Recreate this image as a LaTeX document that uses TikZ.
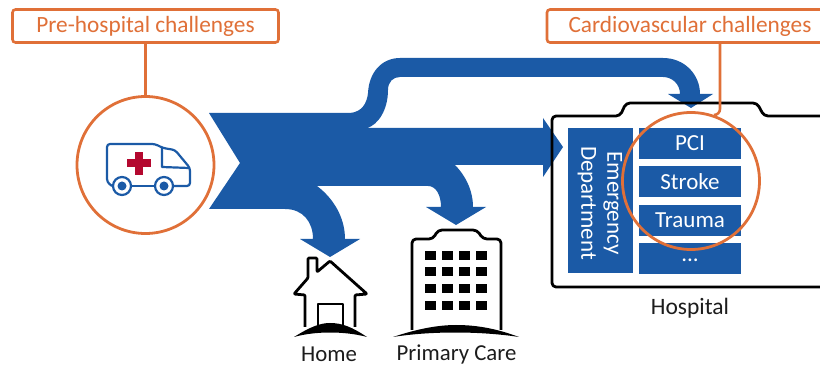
\documentclass[tikz,border=0pt]{standalone}
\usepackage{fontspec}
\setmainfont{Carlito}
\usetikzlibrary{positioning}
\definecolor{flowblue}{HTML}{1B5AA6}
\definecolor{callout}{HTML}{E07038}
\definecolor{crossred}{HTML}{B4082F}
\definecolor{inktext}{HTML}{1C1C1C}
\begin{document}
\begin{tikzpicture}[x=1pt,y=-1pt,
  tag box/.style={draw=callout,line width=2.6pt,rounded corners=3pt,fill=white,
    text=callout,minimum height=33pt,inner sep=0pt,font=\fontsize{23.3}{23.3}\selectfont},
  focus ring/.style={circle,draw=callout,line width=2.8pt,inner sep=0pt,minimum size=#1},
  ward box/.style={fill=flowblue,text=white,minimum width=102pt,minimum height=31pt,
    inner sep=0pt,font=\fontsize{23}{23}\selectfont},
  place label/.style={text=inktext,inner sep=0pt,font=\fontsize{#1}{#1}\selectfont},
  outline/.style={draw=black,line width=2.8pt,line join=round}]
 \useasboundingbox (0,0) rectangle (820,366);
 \clip (0,0) rectangle (820,366);
 % flows
 \fill[flowblue] (209,113) -- (350,113) .. controls (362,112) and (367,103) .. (368,93)
  .. controls (369,72) and (382,58) .. (400,58) -- (663,58)
  .. controls (685,58) and (700,75) .. (700,94) -- (713,94) -- (691,108) -- (668,94) -- (680,94)
  .. controls (680,84) and (672,77) .. (663,77) -- (400,77)
  .. controls (393,77) and (388,82) .. (388,90) .. controls (388,110) and (378,125) .. (367,128)
  -- (543,128) -- (543,118) -- (563,147) -- (543,177) -- (543,165) -- (455,165)
  .. controls (465,175) and (473,190) .. (473,207) -- (486,207) -- (456,225) -- (426,207) -- (441,207)
  .. controls (441,195) and (436,186) .. (428,186) -- (317,186)
  .. controls (333,198) and (345,217) .. (345,239) -- (360,239) -- (330,257) -- (300,239) -- (313,239)
  .. controls (313,222) and (303,209) .. (285,209) -- (209,209) -- (240,163) -- cycle;
 % hospital
 \draw[outline,rounded corners=4pt] (825,287) -- (552,287) -- (552,116) -- (620,116)
  -- (626,103) -- (757,103) -- (764,116) -- (825,116);
 \node[fill=flowblue,text=white,minimum width=65pt,minimum height=145pt,inner sep=0pt] (emerg) at (600.5,200.5) {};
 \node[text=white,rotate=-90,align=center,inner sep=0pt,font=\fontsize{23}{26}\selectfont] (emergtext) at (600,203) {Emergency\\Department};
 \node[ward box] (pci) at (690,143.5) {PCI};
 \node[ward box,below=7pt of pci] (stroke) {Stroke};
 \node[ward box,below=7pt of stroke] (trauma) {Trauma};
 \node[ward box,below=7pt of trauma] (more) {\raisebox{-5pt}{...}};
 \node[place label=23.5] (hospital) at (690,308) {Hospital};
 % callouts
 \node[tag box,minimum width=266pt] (pre) at (145.5,26) {Pre-hospital challenges};
 \node[tag box,minimum width=286pt] (cardio) at (690,26) {Cardiovascular challenges};
 \node[focus ring=137pt] (amb) at (145.5,165) {};
 \node[focus ring=137pt] (ring) at (691,181) {};
 \draw[callout,line width=2.6pt] (pre.south) -- (amb.north);
 \coordinate (ringtop) at (714,115);
 \draw[callout,line width=2.6pt,rounded corners=6pt] (cardio.south -| 720,0) -- (720,115) -- (ringtop);
 % ambulance
 \draw[flowblue,line width=2.2pt,line join=round,rounded corners=3pt] (112,186) -- (107,182) -- (107,144)
  -- (155,144) -- (163,148) -- (175,150) -- (190,168) -- (190,186) -- (174,186);
 \draw[flowblue,line width=2.2pt,line join=round] (132,186) -- (154,186);
 \draw[flowblue,line width=2.2pt,line join=round] (162,148) -- (162,167) -- (189,168);
 \foreach \wx in {122,164} {
  \draw[flowblue,line width=2.2pt,fill=white] (\wx,186) circle (9pt);
  \fill[flowblue] (\wx,186) circle (4.5pt);
 }
 \fill[crossred] (135,152) rectangle (143,175);
 \fill[crossred] (127,159.5) rectangle (151,167.5);
 % home
 \draw[outline,rounded corners=1pt] (305,327) -- (305,295) -- (294,294) -- (308,278) -- (308,258) -- (317,258)
  -- (317,272) -- (330,261) -- (367,294) -- (355,295) -- (355,327);
 \draw[outline] (318,327) -- (318,304) -- (343,304) -- (343,327);
 \fill[black] (294,337) .. controls (310,327) and (320,323) .. (330,323)
  .. controls (342,323) and (352,327) .. (367,337) .. controls (345,331) and (315,331) .. cycle;
 \node[place label=22.8] (home) at (329,354) {Home};
 % primary care
 \draw[outline,rounded corners=4pt] (412,330) -- (412,239) -- (433,239) -- (438,230) -- (477,230) -- (483,239)
  -- (501,239) -- (501,330);
 \foreach \wy in {251,267,284,301} {
  \foreach \wx in {425,442,459,476} {
   \fill[black] (\wx,\wy) rectangle ++(11,9.5);
  }
 }
 \fill[black] (393,337) .. controls (420,328) and (440,325) .. (456,325)
  .. controls (475,325) and (495,328) .. (519,337) .. controls (480,331) and (430,331) .. cycle;
 \node[place label=22.8] (primary) at (456.5,354) {Primary Care};
\end{tikzpicture}
\end{document}
